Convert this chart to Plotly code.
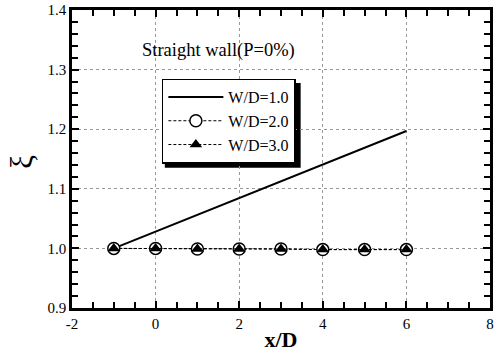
import plotly.graph_objects as go

x_wd1 = [-1, 6]
y_wd1 = [1.0, 1.197]
x_pts = [-1, 0, 1, 2, 3, 4, 5, 6]
y_wd2 = [1.0, 1.0, 0.999, 0.999, 0.999, 0.998, 0.998, 0.998]
y_wd3 = [1.0, 1.0, 0.999, 0.999, 0.999, 0.998, 0.998, 0.998]
x_ticks = [-2, 0, 2, 4, 6, 8]
x_ticklabels = ["-2", "0", "2", "4", "6", "8"]
y_ticks = [0.9, 1.0, 1.1, 1.2, 1.3, 1.4]
y_ticklabels = ["0.9", "1.0", "1.1", "1.2", "1.3", "1.4"]

FONT = "Liberation Serif"

fig = go.Figure()
fig.add_trace(go.Scatter(x=x_wd1, y=y_wd1, mode="lines", name="W/D=1.0",
                         line=dict(color="black", width=2)))
fig.add_trace(go.Scatter(x=x_pts, y=y_wd2, mode="lines+markers", name="W/D=2.0",
                         line=dict(color="black", width=1, dash="3px,2px"),
                         marker=dict(symbol="circle", size=12, color="white",
                                     line=dict(color="black", width=1.5))))
fig.add_trace(go.Scatter(x=x_pts, y=y_wd3, mode="lines+markers", name="W/D=3.0",
                         line=dict(color="black", width=1, dash="3px,2px"),
                         marker=dict(symbol="triangle-up", size=11, color="black")))

axis_common = dict(showline=True, linecolor="black", linewidth=2.5, mirror="allticks",
                   ticks="inside", ticklen=7, tickcolor="black", tickwidth=1.5,
                   showgrid=True, gridcolor="#999999", griddash="dot", gridwidth=1,
                   zeroline=False, automargin=False,
                   tickfont=dict(family=FONT, size=15, color="black"))

fig.update_xaxes(range=[-2, 8], tickmode="array", tickvals=x_ticks, ticktext=x_ticklabels,
                 minor=dict(tickmode="linear", dtick=0.5, tick0=-2, ticks="inside", ticklen=6,
                            tickwidth=1.5, tickcolor="black", showgrid=False),
                 title=dict(text="<b>x/D</b>", font=dict(family=FONT, size=22, color="black"), standoff=1),
                 **axis_common)
fig.update_yaxes(range=[0.9, 1.4], tickmode="array", tickvals=y_ticks, ticktext=y_ticklabels,
                 minor=dict(tickmode="linear", dtick=0.02, tick0=0.9, ticks="inside", ticklen=6,
                            tickwidth=1.5, tickcolor="black", showgrid=False),
                 title=dict(text=""),
                 **axis_common)

fig.add_annotation(text="ξ", xref="paper", yref="paper", x=-0.12, y=0.49,
                   textangle=-90, showarrow=False, xanchor="center", yanchor="middle",
                   font=dict(family=FONT, size=31, color="black"))
fig.add_annotation(text="Straight wall(P=0%)", xref="paper", yref="paper",
                   x=0.162, y=0.865, xanchor="left", yanchor="middle", showarrow=False,
                   font=dict(family=FONT, size=18.5, color="black"))

# legend drop shadow
fig.add_shape(type="rect", xref="paper", yref="paper", x0=0.222, x1=0.547, y0=0.471, y1=0.755,
              fillcolor="black", line=dict(width=0), layer="below")

fig.update_layout(
    width=494, height=356,
    margin=dict(l=72, r=4, t=10, b=48),
    plot_bgcolor="white", paper_bgcolor="white",
    legend=dict(x=0.215, y=0.77, xanchor="left", yanchor="top",
                bgcolor="white", bordercolor="black", borderwidth=1.5,
                font=dict(family=FONT, size=16, color="black"),
                tracegroupgap=0, itemwidth=55),
    font=dict(family=FONT, color="black"),
)

# remove the browser's default 8px body margin so the figure fills the window exactly
fig.write_html("out.html", config={"displayModeBar": False},
               post_script="document.body.style.margin='0';document.body.style.overflow='hidden';")
